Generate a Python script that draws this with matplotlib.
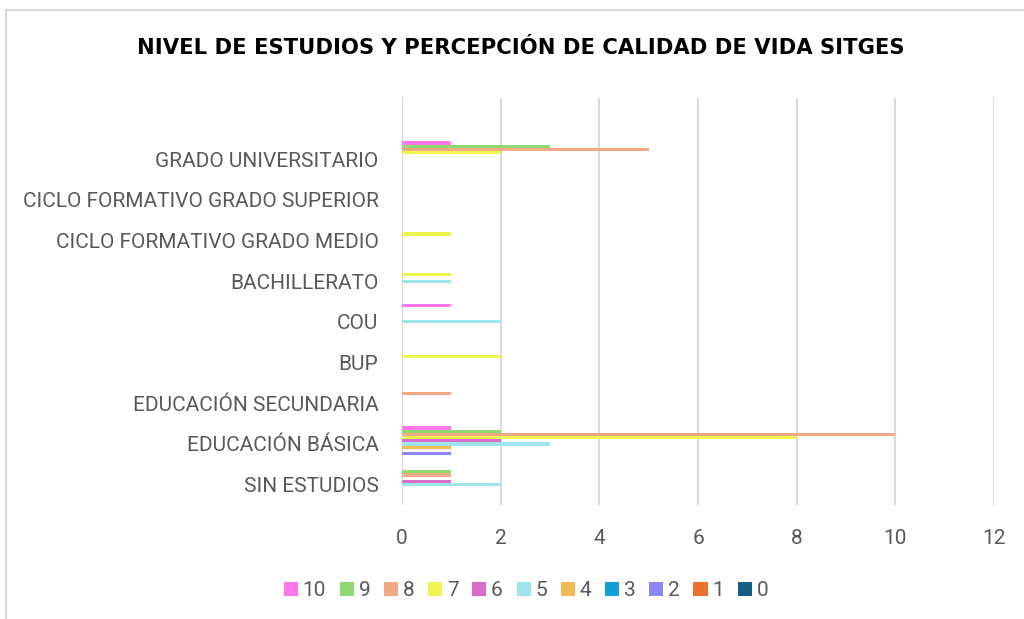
import matplotlib
matplotlib.use("Agg")
import matplotlib.pyplot as plt
from matplotlib.patches import Rectangle
import numpy as np

categories = ["SIN ESTUDIOS", "EDUCACIÓN BÁSICA", "EDUCACIÓN SECUNDARIA", "BUP", "COU",
              "BACHILLERATO", "CICLO FORMATIVO GRADO MEDIO",
              "CICLO FORMATIVO GRADO SUPERIOR", "GRADO UNIVERSITARIO"]
series_names = ["0", "1", "2", "3", "4", "5", "6", "7", "8", "9", "10"]
s0 = [0, 0, 0, 0, 0, 0, 0, 0, 0]
s1 = [0, 0, 0, 0, 0, 0, 0, 0, 0]
s2 = [0, 1, 0, 0, 0, 0, 0, 0, 0]
s3 = [0, 0, 0, 0, 0, 0, 0, 0, 0]
s4 = [0, 1, 0, 0, 0, 0, 0, 0, 0]
s5 = [2, 3, 0, 0, 2, 1, 0, 0, 0]
s6 = [1, 2, 0, 0, 0, 0, 0, 0, 0]
s7 = [0, 8, 0, 2, 0, 1, 1, 0, 2]
s8 = [1, 10, 1, 0, 0, 0, 0, 0, 5]
s9 = [1, 2, 0, 0, 0, 0, 0, 0, 3]
s10 = [0, 1, 0, 0, 1, 0, 0, 0, 1]
series_values = [s0, s1, s2, s3, s4, s5, s6, s7, s8, s9, s10]
colors = ["#155F82", "#EB7131", "#8B85F8", "#109FD8", "#F2BA55", "#9DE5EA",
          "#D86EC9", "#EEF550", "#F4A985", "#8FD873", "#FF77E8"]
title = "NIVEL DE ESTUDIOS Y PERCEPCIÓN DE CALIDAD DE VIDA SITGES"

W, H = 1024, 619
fig = plt.figure(figsize=(W / 100, H / 100), dpi=100)
ax = fig.add_axes([402 / W, 1 - 505 / H, (994 - 402) / W, (505 - 98) / H])

n = len(series_values)
h = 0.0786
y = np.arange(len(categories))
for i, (vals, c, name) in enumerate(zip(series_values, colors, series_names)):
    ax.barh(y + (i - (n - 1) / 2) * h, vals, height=h, color=c, label=name,
            linewidth=0, zorder=3)

ax.set_xlim(0, 12)
ax.set_ylim(-0.5, 9.5)
ax.set_xticks(np.arange(0, 13, 2))
ax.set_yticks(y)
ax.set_yticklabels(categories)
ax.grid(axis="x", color="#d9d9d9", linewidth=1.5, zorder=0)
for sp in ax.spines.values():
    sp.set_visible(False)
ax.tick_params(axis="both", length=0, colors="#595959", labelsize=15)
ax.tick_params(axis="y", pad=17)
ax.tick_params(axis="x", pad=17)
for lbl in ax.get_yticklabels() + ax.get_xticklabels():
    lbl.set_family(["Roboto", "DejaVu Sans"])
    lbl.set_color("#595959")

fig.text(521 / W, 1 - 48 / H, title, ha="center", va="center", fontsize=15.2,
         fontweight="bold", family=["DejaVu Sans"], color="#000000")

handles, labels = ax.get_legend_handles_labels()
leg = fig.legend(handles[::-1], labels[::-1], loc="center", bbox_to_anchor=(526 / W, 1 - 591 / H),
                 ncol=11, frameon=False, handlelength=0.68, handleheight=0.68,
                 columnspacing=0.66, handletextpad=0.22, borderpad=0, borderaxespad=0,
                 prop={"family": ["Roboto", "DejaVu Sans"], "size": 15})
for t in leg.get_texts():
    t.set_color("#595959")

fig.patches.append(Rectangle((6 / W, -0.1), 1.2, 1 - 10 / H + 0.1, transform=fig.transFigure,
                             fill=False, edgecolor="#d9d9d9", linewidth=1.5))
fig.savefig("out.png", dpi=100, facecolor="white")
